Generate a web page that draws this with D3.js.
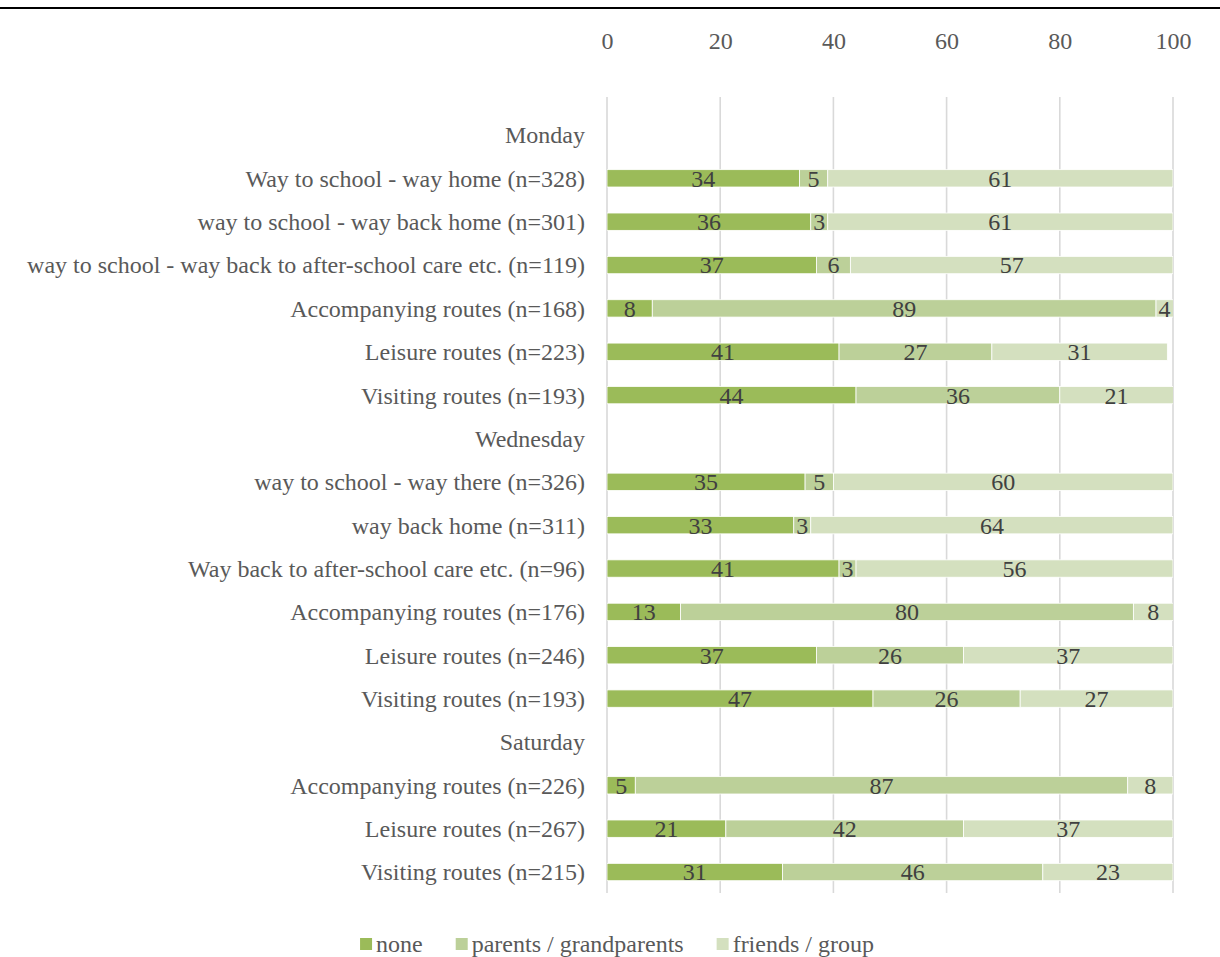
<!DOCTYPE html>
<html>
<head>
<meta charset="utf-8">
<script src="https://cdn.jsdelivr.net/npm/d3@7"></script>
<style>
  html, body { margin: 0; padding: 0; background: #fff; }
  svg { display: block; font-family: "Liberation Serif", "Times New Roman", serif; }
</style>
</head>
<body>
<svg id="chart" width="1220" height="957"></svg>
<script>
// Row labels, top to bottom; day headings carry no bars
const rowLabels = [
  "Monday",
  "Way to school - way home (n=328)",
  "way to school - way back home (n=301)",
  "way to school - way back to after-school care etc. (n=119)",
  "Accompanying routes (n=168)",
  "Leisure routes (n=223)",
  "Visiting routes (n=193)",
  "Wednesday",
  "way to school - way there (n=326)",
  "way back home (n=311)",
  "Way back to after-school care etc. (n=96)",
  "Accompanying routes (n=176)",
  "Leisure routes (n=246)",
  "Visiting routes (n=193)",
  "Saturday",
  "Accompanying routes (n=226)",
  "Leisure routes (n=267)",
  "Visiting routes (n=215)"
];

// Share of routes (%) by accompaniment; null = heading row
const noneValues    = [null, 34, 36, 37,  8, 41, 44, null, 35, 33, 41, 13, 37, 47, null,  5, 21, 31];
const parentsValues = [null,  5,  3,  6, 89, 27, 36, null,  5,  3,  3, 80, 26, 26, null, 87, 42, 46];
const friendsValues = [null, 61, 61, 57,  4, 31, 21, null, 60, 64, 56,  8, 37, 27, null,  8, 37, 23];

const seriesNames = ["none", "parents / grandparents", "friends / group"];
const seriesColors = ["#9bbb59", "#bcd099", "#d4e0bf"];
const tickValues = [0, 20, 40, 60, 80, 100];

const svg = d3.select("#chart");
const W = 1220, H = 957;
const FS = 24;

// Top rule
svg.append("line")
  .attr("x1", 0).attr("x2", W).attr("y1", 8).attr("y2", 8)
  .attr("stroke", "#000").attr("stroke-width", 2);

const x = d3.scaleLinear().domain([0, 100]).range([607, 1173]);
const y = d3.scaleBand().domain(d3.range(rowLabels.length)).range([113.3, 893.7]).paddingInner(0.6).paddingOuter(0.3);

// Gridlines
svg.append("g").selectAll("line")
  .data(tickValues)
  .join("line")
  .attr("x1", d => x(d)).attr("x2", d => x(d))
  .attr("y1", 97).attr("y2", 893)
  .attr("stroke", "#d9d9d9").attr("stroke-width", 1.6);

// Top axis labels
const axis = svg.append("g")
  .attr("transform", "translate(0,49)")
  .call(d3.axisTop(x).tickValues(tickValues).tickSize(0).tickPadding(0));
axis.select(".domain").remove();
axis.selectAll("text")
  .attr("font-family", "Liberation Serif, Times New Roman, serif")
  .attr("font-size", FS).attr("fill", "#595959");

// Stack the three series
const rows = rowLabels.map((label, i) => ({
  i, label,
  vals: [noneValues[i], parentsValues[i], friendsValues[i]]
}));

const segs = [];
rows.forEach(r => {
  if (r.vals[0] === null) return;
  let acc = 0;
  r.vals.forEach((v, k) => {
    segs.push({ row: r.i, k, v, x0: acc, x1: acc + v });
    acc += v;
  });
});

svg.append("defs").append("clipPath").attr("id", "plotClip")
  .append("rect").attr("x", x(0)).attr("y", 0).attr("width", x(100) - x(0)).attr("height", H);

const bars = svg.append("g").attr("clip-path", "url(#plotClip)");
bars.selectAll("rect")
  .data(segs)
  .join("rect")
  .attr("x", d => x(d.x0))
  .attr("width", d => x(d.x1) - x(d.x0))
  .attr("y", d => y(d.row))
  .attr("height", y.bandwidth())
  .attr("fill", d => seriesColors[d.k])
  .attr("stroke", "#fff").attr("stroke-width", 0.8);

// Value labels
svg.append("g").selectAll("text")
  .data(segs)
  .join("text")
  .attr("x", d => x((d.x0 + Math.min(d.x1, 100)) / 2))
  .attr("y", d => y(d.row) + y.bandwidth() / 2)
  .attr("dy", "0.35em")
  .attr("text-anchor", "middle")
  .attr("font-size", FS)
  .attr("fill", "#404040")
  .text(d => d.v);

// Row labels
svg.append("g").selectAll("text")
  .data(rows)
  .join("text")
  .attr("x", 585)
  .attr("y", d => y(d.i) + y.bandwidth() / 2)
  .attr("dy", "0.35em")
  .attr("text-anchor", "end")
  .attr("font-size", FS)
  .attr("fill", "#595959")
  .text(d => d.label);

// Legend
const legend = svg.append("g");
const items = legend.selectAll("g").data(seriesNames).join("g");
items.append("rect").attr("width", 12).attr("height", 12).attr("y", -6)
  .attr("fill", (d, k) => seriesColors[k]);
items.append("text").attr("x", 16).attr("dy", "0.35em")
  .attr("font-size", FS).attr("fill", "#595959").text(d => d);
const widths = [];
items.each(function() { widths.push(16 + this.querySelector("text").getComputedTextLength()); });
const gap = 33;
const total = d3.sum(widths) + gap * (widths.length - 1);
let start = 617 - total / 2;
items.attr("transform", (d, k) => {
  const t = `translate(${start},944)`;
  start += widths[k] + gap;
  return t;
});
</script>
</body>
</html>
